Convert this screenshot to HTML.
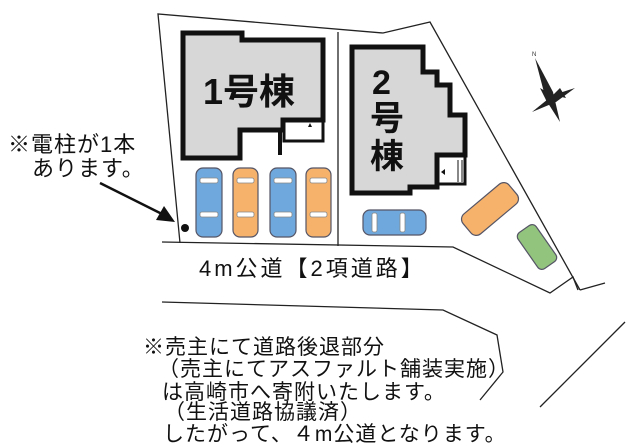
<!DOCTYPE html>
<html><head><meta charset="utf-8"><style>
body{margin:0;background:#fff;width:640px;height:447px;overflow:hidden;position:relative;font-family:"Liberation Sans","Noto Sans CJK JP",sans-serif}
.t{position:absolute;white-space:nowrap;color:#111;font-size:21px;line-height:1;letter-spacing:1px}
</style></head><body>
<svg width="640" height="447" style="position:absolute;left:0;top:0">
<g fill="none" stroke="#222" stroke-width="1.3">
<polyline points="180,243 158,14 383,33 430,22 580,290"/>
<polyline points="162,242 453,247 550,293 573,277 578,290"/>
<line x1="580" y1="290" x2="605" y2="283"/>
<line x1="338" y1="32" x2="338" y2="246"/>
<polyline points="162,302 443,310 497,335 503,372 480,400"/>
<line x1="540" y1="407" x2="625" y2="322"/>
</g>
<g fill="#d7d7d7" stroke="#111" stroke-width="5" stroke-linejoin="miter">
<polygon points="183,33 242,33 242,40 323,40 323,120 283,120 283,130 240,130 240,158 183,158"/>
<polygon points="352,47 423,47 423,72 437,72 437,85 450,85 450,115 465,115 465,155 437,155 437,187 410,187 410,193 352,193"/>
</g>
<rect x="284" y="121" width="39" height="20" fill="#fff" stroke="#111" stroke-width="3"/>
<line x1="280" y1="130" x2="280" y2="155" stroke="#111" stroke-width="4"/>
<polygon points="308,127 312,127 310,123" fill="#111"/>
<rect x="438" y="156" width="27" height="28" fill="#fff" stroke="#111" stroke-width="3"/>
<line x1="458" y1="160" x2="458" y2="182" stroke="#111"/><line x1="462" y1="160" x2="462" y2="182" stroke="#111"/>
<polygon points="441,172 445,169 445,175" fill="#111"/>
<g stroke="#556" stroke-width="1.2">
<rect x="196" y="168" width="26" height="69" rx="7" fill="#6fa8dc"/>
<rect x="233" y="168" width="25" height="69" rx="7" fill="#f6b26b"/>
<rect x="270" y="168" width="26" height="69" rx="7" fill="#6fa8dc"/>
<rect x="306" y="168" width="25" height="69" rx="7" fill="#f6b26b"/>
<rect x="363" y="210" width="63" height="25" rx="7" fill="#6fa8dc"/>
<rect x="460" y="196" width="60" height="26" rx="7" fill="#f6b26b" transform="rotate(-40 490 209)"/>
<rect x="515" y="236" width="44" height="22" rx="5" fill="#93c47d" transform="rotate(55 537 247)"/>
</g>
<g fill="#fff" stroke="#888" stroke-width="0.8">
<rect x="200" y="178" width="18" height="5" rx="2"/><rect x="200" y="212" width="18" height="5" rx="2"/>
<rect x="237" y="178" width="17" height="5" rx="2"/><rect x="237" y="212" width="17" height="5" rx="2"/>
<rect x="274" y="178" width="18" height="5" rx="2"/><rect x="274" y="212" width="18" height="5" rx="2"/>
<rect x="310" y="178" width="17" height="5" rx="2"/><rect x="310" y="212" width="17" height="5" rx="2"/>
<rect x="372" y="213" width="5" height="19" rx="2"/><rect x="400" y="213" width="5" height="19" rx="2"/>
</g>
<circle cx="185" cy="228" r="4" fill="#111"/>
<line x1="100" y1="183" x2="162" y2="214" stroke="#111" stroke-width="2.5"/>
<polygon points="175,222 156,220 164,206" fill="#111"/>
<g fill="#222">
<polygon points="535,58 553,92 560,122 546,100"/>
<polygon points="532,112 553,95 575,88 556,102"/>
<polygon points="540,88 552,95 548,104"/>
<polygon points="566,98 553,95 560,88"/>
</g>
<text x="532" y="56" font-size="6" fill="#333">N</text>
</svg>
<div class="t" style="left:203px;top:74px;font-size:36px;font-weight:bold;letter-spacing:0">1号棟</div>
<div class="t" style="left:372px;top:66px;font-size:34px;font-weight:bold;letter-spacing:0">2</div>
<div class="t" style="left:370px;top:102px;font-size:34px;font-weight:bold;letter-spacing:0">号</div>
<div class="t" style="left:370px;top:140px;font-size:34px;font-weight:bold;letter-spacing:0">棟</div>
<div class="t" style="left:8px;top:134px;font-size:22px">※電柱が1本</div>
<div class="t" style="left:32px;top:158px;font-size:22px">あります。</div>
<div class="t" style="left:199px;top:258px;font-size:22px;letter-spacing:3px">4m公道【2項道路】</div>
<div class="t" style="left:143px;top:337px">※売主にて道路後退部分</div>
<div class="t" style="left:158px;top:359px">（売主にてアスファルト舗装実施）</div>
<div class="t" style="left:162px;top:382px">は高崎市へ寄附いたします。</div>
<div class="t" style="left:164px;top:402px">（生活道路協議済）</div>
<div class="t" style="left:163px;top:424px">したがって、４m公道となります。</div>
</body></html>
